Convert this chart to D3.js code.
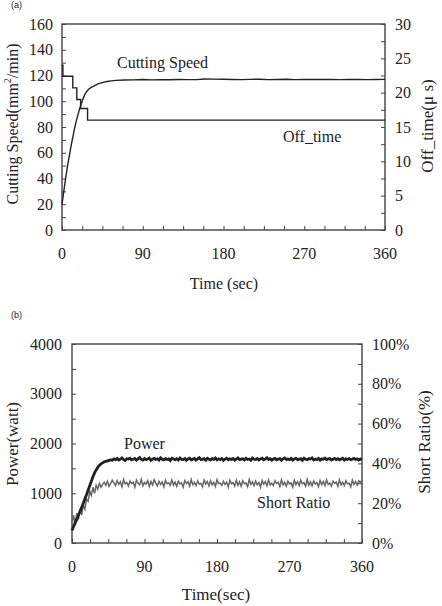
<!DOCTYPE html>
<html><head><meta charset="utf-8">
<script src="https://cdn.jsdelivr.net/npm/d3@7"></script>
<style>
body{margin:0;background:#fff;}
svg text{font-family:"Liberation Serif","Times New Roman",serif;fill:#222;}
</style></head>
<body><svg id="c" width="442" height="606"></svg>
<script>
// ---------- DATA ----------
const timeTicks = [0, 90, 180, 270, 360];
const speedTicks = [0, 20, 40, 60, 80, 100, 120, 140, 160];
const offTicks = [0, 5, 10, 15, 20, 25, 30];
const powerTicks = [0, 1000, 2000, 3000, 4000];
const ratioTicks = [0, 20, 40, 60, 80, 100];

// (a) cutting speed
const speedTime = [0,2,4,6,8,10,12,14,16,18,20,22,24,26,28,30,33,36,40,45,50,55,60,70,80,90,100,110,120,130,140,150,160,170,180,190,200,210,220,230,240,250,260,270,280,290,300,310,320,330,340,350,360];
const speedVal  = [20,30,40,49,57,65,72,79,85,90,95,99,103,106,108,109.5,111,112,113.5,114.5,115.3,115.8,116.2,116.5,116.6,116.9,116.6,116.8,116.7,116.9,116.8,116.8,117.3,117.2,117.1,116.9,116.8,117.0,117.1,116.8,116.9,117.1,116.8,117.0,116.9,116.9,117.0,116.8,116.9,117.0,116.8,116.9,117.0];
// (a) off_time steps
const offTime = [0, 1, 12, 16.5, 20.8, 28.5, 360];
const offVal  = [24, 22.4, 20.7, 19.0, 17.7, 16.0, 16.0];

// (b) power & short ratio, sampled every 2 s
const powerVal = [250,330,410,470,560,640,720,800,890,970,1060,1150,1240,1330,1410,1470,1520,1560,1590,1610,1630,1640,1650,1660,1670,1665,
1690,1672,1701,1668,1685,1710,1676,1660,1695,1688,
1704,1671,1683,1699,1665,1692,1718,1680,1667,1696,
1674,1689,1707,1662,1686,1700,1678,1693,1669,1712,
1684,1671,1697,1679,1690,1658,1703,1687,1675,1694,
1668,1709,1682,1677,1698,1663,1691,1705,1673,1686,
1700,1667,1689,1714,1676,1681,1695,1664,1702,1685,
1672,1696,1683,1710,1669,1690,1678,1699,1661,1687,
1706,1674,1692,1680,1697,1666,1688,1712,1675,1684,
1693,1670,1701,1679,1689,1662,1707,1683,1676,1698,
1668,1691,1704,1673,1686,1715,1677,1694,1665,1688,
1700,1671,1685,1696,1663,1692,1708,1679,1687,1674,
1699,1667,1690,1703,1676,1684,1695,1661,1705,1682,
1673,1697,1688,1710,1670,1686,1679,1701,1664,1692,
1683,1707,1675,1690,1698,1668,1685,1702,1677,1694,
1671,1688,1705,1666,1691,1680,1697,1674,1686,1700,
1678,1693,1669,1687,1682];
const ratioVal = [10,14,9,15,12,17,14,19,17,22,21,26,24,28,25,29,27,30,28,29.5,30.5,29,31,28.5,30,31.5,
30.2,28.9,31.4,29.5,30.8,28.3,31.9,29.7,30.4,28.6,
31.2,29.9,30.6,28.1,31.7,30.0,29.3,32.0,28.8,30.5,
29.6,31.3,28.4,30.9,29.2,31.8,30.1,28.7,31.0,29.4,
30.7,28.2,31.5,29.8,30.3,28.9,31.6,29.1,30.6,28.5,
31.1,29.7,30.2,28.0,31.4,29.9,30.8,28.6,31.9,29.3,
30.4,28.8,31.2,29.5,30.0,28.3,31.7,29.6,30.9,28.7,
31.3,29.2,30.5,28.4,31.8,29.9,30.1,28.9,31.0,29.4,
30.6,28.1,31.5,29.7,30.3,28.6,31.6,29.0,30.8,28.5,
31.2,29.8,30.2,28.3,31.9,29.5,30.7,28.8,31.1,29.3,
30.4,28.2,31.4,29.6,30.9,28.7,31.7,29.1,30.0,28.9,
31.3,29.9,30.5,28.4,31.8,29.2,30.6,28.6,31.0,29.7,
30.2,28.1,31.5,29.4,30.8,28.9,31.6,29.8,30.3,28.5,
31.9,29.0,30.7,28.7,31.2,29.6,30.4,28.3,31.4,29.3,
30.9,28.8,31.7,29.5,30.1,28.6,31.1,29.9,30.6,28.4,
31.8,29.2,30.5,28.9,31.3,29.7,30.0,28.2,31.6,29.4,
30.8,29.1,31.2,30.4,31.5];
const sampleStep = 2;

// ---------- DRAW ----------
const svg = d3.select("#c");
const FS = 16;

function panel(o){
  const g = svg.append("g");
  const x = d3.scaleLinear().domain([0,360]).range([o.l,o.r]);
  const yl = d3.scaleLinear().domain(o.lDom).range([o.b,o.t]);
  const yr = d3.scaleLinear().domain(o.rDom).range([o.b,o.t]);
  const tl = 4;
  g.append("rect").attr("x",o.l).attr("y",o.t).attr("width",o.r-o.l).attr("height",o.b-o.t)
    .attr("fill","none").attr("stroke","#333").attr("stroke-width",1.3);
  const xMinor = d3.range(0,360.1,22.5);
  const ax = g.append("g").attr("transform",`translate(0,${o.b})`)
    .call(d3.axisTop(x).tickValues(xMinor).tickSize(tl).tickFormat(""));
  ax.select(".domain").remove();
  g.selectAll(".xl").data(timeTicks).join("text").attr("x",d=>x(d)).attr("y",o.b+o.xlOff)
    .attr("text-anchor","middle").attr("font-size",FS).text(d=>d);
  const la = g.append("g").attr("transform",`translate(${o.l},0)`)
    .call(d3.axisRight(yl).tickValues(d3.range(o.lDom[0],o.lDom[1]+1e-6,o.lMinor)).tickSize(tl).tickFormat(""));
  la.select(".domain").remove();
  g.selectAll(".yl").data(o.lTicks).join("text").attr("x",o.l-o.ylOff).attr("y",d=>yl(d)+5.5)
    .attr("text-anchor","end").attr("font-size",FS).text(d=>d);
  const ra = g.append("g").attr("transform",`translate(${o.r},0)`)
    .call(d3.axisLeft(yr).tickValues(d3.range(o.rDom[0],o.rDom[1]+1e-6,o.rMinor)).tickSize(tl).tickFormat(""));
  ra.select(".domain").remove();
  g.selectAll(".yr").data(o.rTicks).join("text").attr("x",o.r+o.yrOff).attr("y",d=>yr(d)+5.5)
    .attr("text-anchor","start").attr("font-size",FS).text(o.rFmt);
  g.selectAll(".tick line").attr("stroke","#444").attr("stroke-width",1);
  return {g,x,yl,yr};
}

// Panel (a)
const A = panel({l:62,r:385,t:24,b:230,lDom:[0,160],rDom:[0,30],lMinor:10,rMinor:2.5,
  lTicks:speedTicks,rTicks:offTicks,rFmt:d=>d,xlOff:29,ylOff:9,yrOff:10});
A.g.append("path").datum(speedTime.map((t,i)=>[t,speedVal[i]]))
  .attr("d",d3.line().x(d=>A.x(d[0])).y(d=>A.yl(d[1])))
  .attr("fill","none").attr("stroke","#222").attr("stroke-width",1.4);
A.g.append("path").datum(offTime.map((t,i)=>[t,offVal[i]]))
  .attr("d",d3.line().x(d=>A.x(d[0])).y(d=>A.yr(d[1])).curve(d3.curveStepAfter))
  .attr("fill","none").attr("stroke","#222").attr("stroke-width",1.4);
A.g.append("text").attr("x",117).attr("y",68).attr("font-size",FS).text("Cutting Speed");
A.g.append("text").attr("x",283).attr("y",142).attr("font-size",FS).text("Off_time");
A.g.append("text").attr("x",224).attr("y",289).attr("text-anchor","middle").attr("font-size",16).text("Time (sec)");
const ta = A.g.append("text").attr("transform","translate(18,124) rotate(-90)").attr("text-anchor","middle").attr("font-size",16);
ta.append("tspan").text("Cutting Speed(mm");
ta.append("tspan").attr("font-size",10).attr("dy",-7).text("2");
ta.append("tspan").attr("dy",7).text("/min)");
A.g.append("text").attr("transform","translate(433,126) rotate(-90)").attr("text-anchor","middle").attr("font-size",17).text("Off_time(\u03bc s)");
svg.append("text").attr("x",11).attr("y",8).attr("font-size",9).style("font-family","'Liberation Sans',Arial,sans-serif").attr("fill","#444").text("(a)");

// Panel (b)
const B = panel({l:72,r:362,t:344,b:543,lDom:[0,4000],rDom:[0,100],lMinor:500,rMinor:10,
  lTicks:powerTicks,rTicks:ratioTicks,rFmt:d=>d+"%",xlOff:29,ylOff:10,yrOff:10});
B.g.append("path").datum(ratioVal.map((v,i)=>[i*sampleStep,v]))
  .attr("d",d3.line().x(d=>B.x(d[0])).y(d=>B.yr(d[1])))
  .attr("fill","none").attr("stroke","#666").attr("stroke-width",1.5);
B.g.append("path").datum(powerVal.map((v,i)=>[i*sampleStep,v]))
  .attr("d",d3.line().x(d=>B.x(d[0])).y(d=>B.yl(d[1])))
  .attr("fill","none").attr("stroke","#222").attr("stroke-width",2.8);
B.g.append("text").attr("x",124).attr("y",449).attr("font-size",FS).text("Power");
B.g.append("text").attr("x",257).attr("y",508).attr("font-size",FS).text("Short Ratio");
B.g.append("text").attr("x",216).attr("y",600).attr("text-anchor","middle").attr("font-size",17).text("Time(sec)");
B.g.append("text").attr("transform","translate(18,444) rotate(-90)").attr("text-anchor","middle").attr("font-size",17).text("Power(watt)");
B.g.append("text").attr("transform","translate(430,442) rotate(-90)").attr("text-anchor","middle").attr("font-size",17).text("Short Ratio(%)");
svg.append("text").attr("x",11).attr("y",318).attr("font-size",9).style("font-family","'Liberation Sans',Arial,sans-serif").attr("fill","#444").text("(b)");
</script></body></html>
